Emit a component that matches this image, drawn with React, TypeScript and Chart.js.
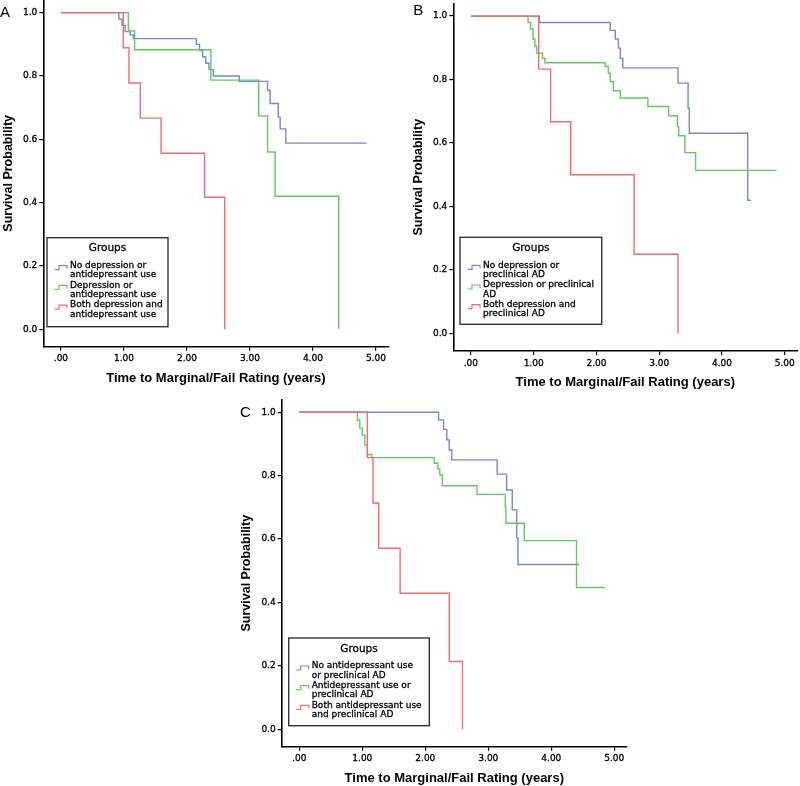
import React, { useEffect, useRef } from "react";
import { Chart, registerables } from "chart.js";

Chart.register(...registerables);

// ---------- shared axis data ----------
const xTicks = [0, 1, 2, 3, 4, 5];
const xTickLabels = [".00", "1.00", "2.00", "3.00", "4.00", "5.00"];
const yTicks = [0, 0.2, 0.4, 0.6, 0.8, 1.0];
const yTickLabels = ["0.0", "0.2", "0.4", "0.6", "0.8", "1.0"];
const xTitle = "Time to Marginal/Fail Rating (years)";
const yTitle = "Survival Probability";
const legendTitle = "Groups";
const seriesColors = ["#7489cf", "#62c862", "#ef6d6d"];

// ---------- Panel A ----------
const aBlueT = [0, 0.92, 0.97, 1.02, 1.1, 1.15, 2.15, 2.2, 2.25, 2.3, 2.35, 2.42, 2.83, 3.28, 3.32, 3.45, 3.48, 3.57, 4.85];
const aBlueS = [1, 0.98, 0.96, 0.94, 0.93, 0.918, 0.9, 0.88, 0.86, 0.84, 0.82, 0.8, 0.783, 0.755, 0.713, 0.67, 0.633, 0.588, 0.588];
const aGreenT = [0, 1.07, 1.17, 2.38, 3.14, 3.28, 3.4, 4.41];
const aGreenS = [1, 0.942, 0.883, 0.787, 0.674, 0.56, 0.42, 0];
const aRedT = [0, 0.99, 1.08, 1.26, 1.59, 2.28, 2.6];
const aRedS = [1, 0.889, 0.778, 0.667, 0.556, 0.417, 0];
const aLabels = [
  ["No depression or", "antidepressant use"],
  ["Depression or", "antidepressant use"],
  ["Both depression and", "antidepressant use"],
];

// ---------- Panel B ----------
const bBlueT = [0, 1.09, 2.22, 2.3, 2.35, 2.38, 2.42, 3.3, 3.46, 3.48, 4.41, 4.46];
const bBlueS = [1, 0.98, 0.955, 0.928, 0.899, 0.867, 0.837, 0.789, 0.71, 0.631, 0.42, 0.42];
const bGreenT = [0, 0.91, 0.95, 0.99, 1.02, 1.05, 1.14, 1.18, 2.14, 2.19, 2.22, 2.27, 2.38, 2.82, 3.15, 3.29, 3.31, 3.41, 3.58, 4.87];
const bGreenS = [1, 0.98, 0.96, 0.928, 0.905, 0.883, 0.867, 0.853, 0.841, 0.82, 0.794, 0.765, 0.742, 0.715, 0.686, 0.652, 0.623, 0.57, 0.514, 0.514];
const bRedT = [0, 1.08, 1.27, 1.59, 2.6, 3.3];
const bRedS = [1, 0.833, 0.667, 0.5, 0.25, 0];
const bLabels = [
  ["No depression or", "preclinical AD"],
  ["Depression or preclinical", "AD"],
  ["Both depression and", "preclinical AD"],
];

// ---------- Panel C ----------
const cBlueT = [0, 2.21, 2.29, 2.34, 2.38, 2.42, 3.14, 3.29, 3.38, 3.45, 3.47, 4.44];
const cBlueS = [1, 0.976, 0.946, 0.913, 0.881, 0.85, 0.805, 0.755, 0.692, 0.604, 0.52, 0.52];
const cGreenT = [0, 0.92, 0.96, 1.0, 1.04, 1.08, 1.15, 2.14, 2.2, 2.23, 2.27, 2.82, 3.27, 3.28, 3.57, 4.4, 4.85];
const cGreenS = [1, 0.975, 0.95, 0.928, 0.897, 0.867, 0.857, 0.839, 0.821, 0.802, 0.768, 0.741, 0.7, 0.65, 0.595, 0.447, 0.447];
const cRedT = [0, 1.08, 1.17, 1.26, 1.6, 2.38, 2.59];
const cRedS = [1, 0.857, 0.714, 0.571, 0.429, 0.214, 0];
const cLabels = [
  ["No antidepressant use", "or preclinical AD"],
  ["Antidepressant use or", "preclinical AD"],
  ["Both antidepressant use", "and preclinical AD"],
];

type Panel = {
  letter: string;
  series: { t: number[]; s: number[] }[];
  labels: string[][];
  left: number; top: number; w: number; h: number;
  yWidth: number; xHeight: number; padTop: number; padRight: number;
  yTitlePad: number; xTitlePad: number;
  letterX: number; letterY: number;
  legend: { x: number; y: number; w: number; h: number };
};

const panels: Panel[] = [
  {
    letter: "A",
    series: [{ t: aBlueT, s: aBlueS }, { t: aGreenT, s: aGreenS }, { t: aRedT, s: aRedS }],
    labels: aLabels,
    left: 0, top: 0, w: 400, h: 390,
    yWidth: 43.3, xHeight: 43.3, padTop: 0, padRight: 11.5,
    yTitlePad: 1.5, xTitlePad: 4.2,
    letterX: 0, letterY: 16.7,
    legend: { x: 47, y: 237.7, w: 121, h: 89 },
  },
  {
    letter: "B",
    series: [{ t: bBlueT, s: bBlueS }, { t: bGreenT, s: bGreenS }, { t: bRedT, s: bRedS }],
    labels: bLabels,
    left: 400, top: 0, w: 400, h: 390,
    yWidth: 53.3, xHeight: 39, padTop: 3.4, padRight: 2.7,
    yTitlePad: 10.8, xTitlePad: 0.2,
    letterX: 13.3, letterY: 15,
    legend: { x: 60, y: 237.3, w: 141.7, h: 87 },
  },
  {
    letter: "C",
    series: [{ t: cBlueT, s: cBlueS }, { t: cGreenT, s: cGreenS }, { t: cRedT, s: cRedS }],
    labels: cLabels,
    left: 230, top: 390, w: 400, h: 396,
    yWidth: 51.7, xHeight: 39.3, padTop: 9.6, padRight: 3.1,
    yTitlePad: 9.2, xTitlePad: 0,
    letterX: 10, letterY: 26.7,
    legend: { x: 58.7, y: 248, w: 140.6, h: 87.7 },
  },
];

const tickFont = { family: '"DejaVu Sans", sans-serif', size: 9 };

function makeDecor(p: Panel) {
  return {
    id: "panelDecor" + p.letter,
    afterDraw(chart: any) {
      const ctx = chart.ctx as CanvasRenderingContext2D;
      ctx.save();
      ctx.fillStyle = "#000";
      ctx.font = '15px "Liberation Sans", Arial, sans-serif';
      ctx.textAlign = "left";
      ctx.textBaseline = "alphabetic";
      ctx.fillText(p.letter, p.letterX, p.letterY);

      const { x, y, w, h } = p.legend;
      ctx.fillStyle = "#fff";
      ctx.fillRect(x, y, w, h);
      ctx.strokeStyle = "#333";
      ctx.lineWidth = 1.4;
      ctx.strokeRect(x, y, w, h);

      ctx.fillStyle = "#000";
      ctx.strokeStyle = "#000";
      ctx.lineWidth = 0.3;
      ctx.font = '10.5px "DejaVu Sans", sans-serif';
      ctx.textAlign = "center";
      ctx.textBaseline = "middle";
      ctx.fillText(legendTitle, x + w / 2, y + 10.8);
      ctx.strokeText(legendTitle, x + w / 2, y + 10.8);

      ctx.font = '9px "DejaVu Sans", sans-serif';
      ctx.textAlign = "left";
      p.labels.forEach((lines, i) => {
        const ly = y + 28 + i * 19.7;
        ctx.fillStyle = "#000";
        ctx.strokeStyle = "#000";
        ctx.lineWidth = 0.3;
        lines.forEach((t, j) => {
          ctx.fillText(t, x + 23, ly + j * 9.3);
          ctx.strokeText(t, x + 23, ly + j * 9.3);
        });
        const ix = x + 7.5;
        ctx.strokeStyle = seriesColors[i];
        ctx.lineWidth = 1.2;
        ctx.beginPath();
        ctx.moveTo(ix, ly + 4);
        ctx.lineTo(ix + 4.5, ly + 4);
        ctx.lineTo(ix + 4.5, ly);
        ctx.lineTo(ix + 12.5, ly);
        ctx.lineTo(ix + 12.5, ly + 3);
        ctx.stroke();
      });
      ctx.restore();
    },
  };
}

function KMPanel({ p }: { p: Panel }) {
  const ref = useRef<HTMLCanvasElement | null>(null);
  useEffect(() => {
    if (!ref.current) return;
    const datasets = p.series.map((ser, i) => ({
      data: ser.t.map((x, k) => ({ x, y: ser.s[k] })),
      borderColor: seriesColors[i],
      borderWidth: 1.4,
      stepped: "before" as const,
      pointRadius: 0,
      fill: false,
      order: 2 - i,
    }));
    const chart = new Chart(ref.current, {
      type: "line",
      data: { datasets },
      options: {
        animation: false,
        responsive: false,
        maintainAspectRatio: false,
        layout: { padding: { left: 0, top: p.padTop, right: p.padRight, bottom: 0 } },
        plugins: { legend: { display: false }, tooltip: { enabled: false } },
        scales: {
          x: {
            type: "linear",
            min: -0.28,
            max: 5.2,
            afterBuildTicks: (s: any) => {
              s.ticks = xTicks.map((v) => ({ value: v }));
            },
            afterFit: (s: any) => {
              s.height = p.xHeight;
              s.paddingLeft = 0;
              s.paddingRight = 0;
            },
            ticks: {
              callback: (_v: any, i: number) => xTickLabels[i],
              font: tickFont,
              color: "#000",
              textStrokeColor: "#000",
              textStrokeWidth: 0.3,
              padding: 3,
              maxRotation: 0,
              autoSkip: false,
            },
            grid: { display: true, drawOnChartArea: false, tickLength: 4, color: "#000", lineWidth: 1.2 },
            border: { display: true, color: "#000", width: 1.6 },
            title: {
              display: true,
              text: xTitle,
              color: "#000",
              font: { family: '"Liberation Sans", Arial, sans-serif', size: 13, weight: "bold" },
              padding: { top: 0, bottom: p.xTitlePad },
            },
          },
          y: {
            type: "linear",
            min: -0.055,
            max: 1.04,
            afterBuildTicks: (s: any) => {
              s.ticks = yTicks.map((v) => ({ value: v }));
            },
            afterFit: (s: any) => {
              s.width = p.yWidth;
              s.paddingTop = 0;
              s.paddingBottom = 0;
            },
            ticks: {
              callback: (_v: any, i: number) => yTickLabels[i],
              font: tickFont,
              color: "#000",
              textStrokeColor: "#000",
              textStrokeWidth: 0.3,
              padding: 2,
              autoSkip: false,
            },
            grid: { display: true, drawOnChartArea: false, tickLength: 4, color: "#000", lineWidth: 1.2 },
            border: { display: true, color: "#000", width: 1.6 },
            title: {
              display: true,
              text: yTitle,
              color: "#000",
              font: { family: '"Liberation Sans", Arial, sans-serif', size: 12.5, weight: "bold" },
              padding: { top: p.yTitlePad, bottom: 0 },
            },
          },
        },
      },
      plugins: [makeDecor(p)],
    } as any);
    return () => chart.destroy();
  }, [p]);
  return (
    <canvas
      ref={ref}
      width={p.w}
      height={p.h}
      style={{ position: "absolute", left: p.left, top: p.top, width: p.w, height: p.h }}
    />
  );
}

export default function App() {
  return (
    <div style={{ position: "absolute", left: 0, top: 0, width: 800, height: 786, background: "#fff" }}>
      {panels.map((p) => (
        <KMPanel key={p.letter} p={p} />
      ))}
    </div>
  );
}
